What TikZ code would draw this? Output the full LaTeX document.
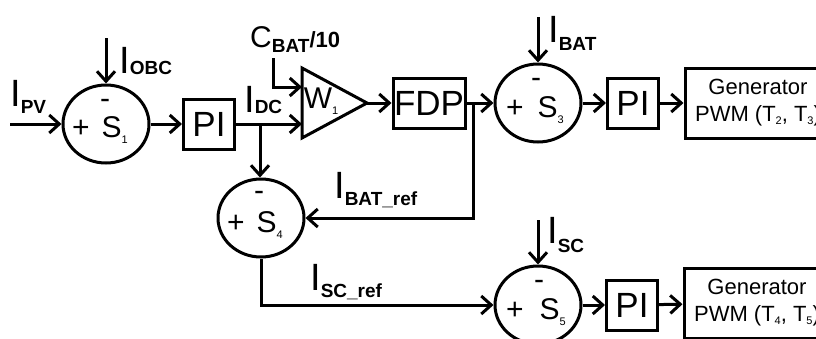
\documentclass[tikz,border=0pt]{standalone}
\usepackage{fontspec}
\setmainfont{Liberation Sans}
\usetikzlibrary{arrows.meta, positioning, shapes.geometric, calc}

\newcommand{\curlbl}[2][5pt]{I\raisebox{-#1}{\fontsize{19}{19}\selectfont\bfseries #2}}
\newcommand{\tinysub}[2][-6pt]{\raisebox{#1}{\fontsize{11}{11}\selectfont #2}}

\begin{document}
\begin{tikzpicture}[
    x=1pt, y=-1pt,
    blk/.style={rectangle, draw, line width=3pt, inner sep=0pt, minimum width=51pt, minimum height=50pt, font=\fontsize{35}{35}\selectfont},
    gen/.style={rectangle, draw, line width=3pt, inner sep=0pt, minimum width=146pt, minimum height=70pt, align=center, font=\fontsize{22}{27}\selectfont},
    summ/.style={ellipse, draw, line width=3pt, inner sep=0pt, minimum width=86pt, minimum height=78pt},
    sgn/.style={inner sep=0pt, anchor=base, font=\fontsize{30}{30}\selectfont},
    lbl/.style={inner sep=0pt, anchor=base west, font=\fontsize{38}{38}\selectfont},
    arr/.style={-{Straight Barb[length=10pt, width=18pt]}, line width=3pt}
]
\useasboundingbox (0,0) rectangle (816,338);
\clip (0,0) rectangle (816,338);

% Summing junctions
\node[summ] (s1) at (106,124) {};
\node[summ] (s3) at (538,103) {};
\node[summ] (s4) at (261,218) {};
\node[summ] (s5) at (538,305) {};

\node[sgn] (s1m) at ($(s1)+(-1,-16)$) {-};
\node[sgn] (s1t) at ($(s1)+(-6,13)$) {+\hspace{12pt}S\tinysub{1}};
\node[sgn] (s3m) at ($(s3)+(-2,-16)$) {-};
\node[sgn] (s3t) at ($(s3)+(-3,14)$) {+\hspace{14pt}S\tinysub{3}};
\node[sgn] (s4m) at ($(s4)+(-2,-18)$) {-};
\node[sgn] (s4t) at ($(s4)+(-6,14)$) {+\hspace{12pt}S\tinysub{4}};
\node[sgn] (s5m) at ($(s5)+(1,-16)$) {-};
\node[sgn] (s5t) at ($(s5)+(-2,14)$) {+\hspace{16pt}S\tinysub{5}};

% Blocks
\node[blk] (pi1) at (209,124) {PI};
\node[blk, minimum width=72pt] (fdp) at (429,103) {FDP};
\node[blk] (pi2) at (633,103) {PI};
\node[blk] (pi3) at (632,305) {PI};
\node[gen] (gen1) at (758,103) {Generator\\PWM (T\tinysub[-3pt]{2}, T\tinysub[-3pt]{3})};
\node[gen] (gen2) at (757,303) {Generator\\PWM (T\tinysub[-3pt]{4}, T\tinysub[-3pt]{5})};

% Gain W1
\coordinate (w1a) at (302,68);
\coordinate (w1b) at (302,138);
\coordinate (w1c) at (367,103);
\draw[line width=3pt, line join=miter] (w1a) -- (w1c) -- (w1b) -- cycle;
\node[sgn] (w1) at (321,108) {W\tinysub{1}};

% Labels
\node[lbl] (lpv) at (10,106) {\curlbl[7pt]{PV}};
\node[lbl] (lobc) at (119,73) {\curlbl[1pt]{OBC}};
\node[lbl] (ldc) at (244,112) {\curlbl[1pt]{DC}};
\node[lbl] (lbat) at (548,42) {\curlbl[8pt]{BAT}};
\node[lbl] (lbatref) at (334,198) {\curlbl[7pt]{BAT\_ref}};
\node[lbl] (lscref) at (310,290) {\curlbl[7pt]{SC\_ref}};
\node[lbl] (lsc) at (547,243) {\curlbl[9pt]{SC}};
\node[lbl, font=\fontsize{30}{30}\selectfont] (lcbat) at (250,47) {C\raisebox{-5pt}{\fontsize{19}{19}\selectfont\bfseries BAT}{\fontsize{22}{22}\selectfont\bfseries/10}};

% Free ends and junctions
\coordinate (ipv) at (10,124);
\coordinate (iobc) at (106,38);
\coordinate (cbat) at (273,58);
\coordinate (win1) at (302,87);
\coordinate (win2) at (302,124);
\coordinate (jdc) at (260,124);
\coordinate (jbat) at (473,103);
\coordinate (ibat) at (538,17);
\coordinate (isc) at (538,220);

% Connections
\draw[arr] (ipv) -- (s1.west);
\draw[arr] (iobc) -- (s1.north);
\draw[arr] (s1) -- (pi1);
\draw[arr] (pi1) -- (win2);
\draw[arr] (cbat) |- (win1);
\draw[arr] (jdc) -- (jdc |- s4.north);
\draw[arr] (w1c) -- (fdp);
\draw[arr] (fdp) -- (s3);
\draw[arr] (jbat) |- (s4.east);
\draw[arr] (ibat) -- (s3.north);
\draw[arr] (s3) -- (pi2);
\draw[arr] (pi2) -- (gen1);
\draw[arr] (s4.south) |- (s5.west);
\draw[arr] (isc) -- (s5.north);
\draw[arr] (s5) -- (pi3);
\draw[arr] (pi3) -- (gen2);

\end{tikzpicture}
\end{document}
